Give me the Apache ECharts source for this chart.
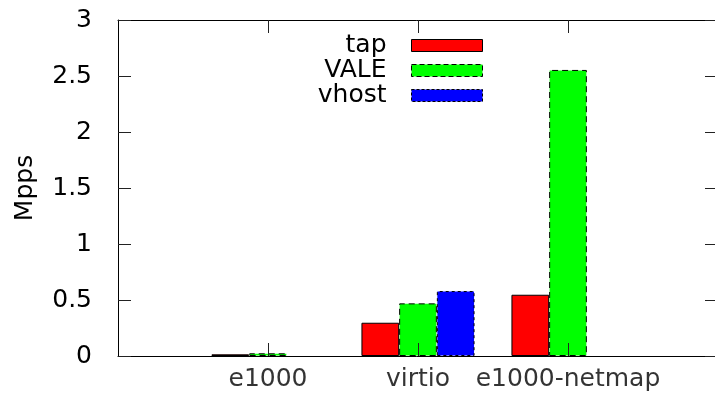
<!DOCTYPE html>
<html>
<head>
<meta charset="utf-8">
<script src="https://cdn.jsdelivr.net/npm/echarts@6/dist/echarts.min.js"></script>
<style>
html,body{margin:0;padding:0;background:#fff;}
#chart{width:715px;height:395px;}
</style>
</head>
<body>
<div id="chart"></div>
<script>
const categories = ['e1000', 'virtio', 'e1000-netmap'];
const seriesNames = ['tap', 'VALE', 'vhost'];
const tapValues = [0.015, 0.297, 0.547];
const valeValues = [0.024, 0.47, 2.554];
const vhostValues = [null, 0.58, null];
const yTickLabels = ['0', '0.5', '1', '1.5', '2', '2.5', '3'];
const yMax = 3;

const FONT = 'DejaVu Sans';
// one empty slot before and after the clusters (gnuplot x range -1..3)
const axisSlots = [''].concat(categories).concat(['']);
const padData = arr => [null].concat(arr).concat([null]);
const baseline = categories.map(() => 0);

const chart = echarts.init(document.getElementById('chart'), null, {renderer: 'canvas'});

function xAxisOf(position) {
  return {
    type: 'category', data: axisSlots, boundaryGap: false, position: position,
    axisLine: {show: true, onZero: false, lineStyle: {color: '#000', width: 1}},
    axisTick: {show: false},
    splitLine: {show: false},
    axisLabel: {show: false}
  };
}
function yAxisOf(position, showLabel) {
  return {
    type: 'value', min: 0, max: yMax, interval: 0.5, position: position,
    axisLine: {show: true, onZero: false, lineStyle: {color: '#000', width: 1}},
    axisTick: {show: true, inside: true, length: 13, lineStyle: {color: '#222', width: 1}},
    splitLine: {show: false},
    axisLabel: {
      show: showLabel, margin: 26, fontFamily: FONT, fontSize: 25, color: '#000',
      formatter: v => yTickLabels[Math.round(v / 0.5)]
    }
  };
}

const yLeft = yAxisOf('left', true);
yLeft.name = 'Mpps';
yLeft.nameLocation = 'middle';
yLeft.nameRotate = 90;
yLeft.nameGap = 80;
yLeft.nameTextStyle = {fontFamily: FONT, fontSize: 25, color: '#000'};

const barSeries = (name, values, style) => ({
  name: name, type: 'bar', xAxisIndex: 0, yAxisIndex: 0,
  barWidth: 37.7, barGap: '0%', itemStyle: style, data: padData(values)
});

chart.setOption({
  animation: false,
  backgroundColor: '#fff',
  grid: {left: 118, top: 20, right: -3, bottom: 39, containLabel: false, outerBoundsMode: 'none'},
  legend: {
    orient: 'vertical', align: 'right', right: 227, top: 28,
    icon: 'rect', itemWidth: 71, itemHeight: 12, itemGap: 0,
    textStyle: {fontFamily: FONT, fontSize: 25, color: '#000', lineHeight: 23, padding: [0, 20, 0, 0]},
    data: [
      {name: seriesNames[0], itemStyle: {borderColor: '#000', borderWidth: 1, borderType: 'solid'}},
      {name: seriesNames[1], itemStyle: {borderColor: '#000', borderWidth: 1, borderType: [5, 3]}},
      {name: seriesNames[2], itemStyle: {borderColor: '#000', borderWidth: 1, borderType: [3, 2]}}
    ]
  },
  xAxis: [xAxisOf('bottom'), xAxisOf('top')],
  yAxis: [yLeft, yAxisOf('right', false)],
  series: [
    barSeries(seriesNames[0], tapValues, {color: '#ff0000', borderColor: '#000', borderWidth: 1, borderType: 'solid'}),
    barSeries(seriesNames[1], valeValues, {color: '#00ff00', borderColor: '#000', borderWidth: 1, borderType: [6, 4]}),
    barSeries(seriesNames[2], vhostValues, {color: '#0000ff', borderColor: '#000', borderWidth: 1, borderType: [3, 3]}),
    {
      // category names under the clusters, placed by the axis scale
      name: 'categoryLabels', type: 'scatter', xAxisIndex: 0, yAxisIndex: 0,
      symbolSize: 0, silent: true, clip: false, z: 10,
      label: {
        show: true, position: 'bottom', distance: 11,
        fontFamily: FONT, fontSize: 25, color: '#000',
        formatter: p => axisSlots[p.dataIndex]
      },
      data: padData(baseline)
    },
    {
      // inward x ticks at each cluster centre, bottom and mirrored top
      name: 'xTicks', type: 'custom', xAxisIndex: 0, yAxisIndex: 0,
      silent: true, clip: false, z: 10,
      encode: {x: 0, y: 1},
      data: categories.map(c => [c, 0]),
      renderItem: function (params, api) {
        const bottom = api.coord([api.value(0), 0]);
        const top = api.coord([api.value(0), yMax]);
        const x = Math.round(bottom[0]) + 0.5;
        const style = {stroke: '#222', lineWidth: 1};
        return {
          type: 'group',
          children: [
            {type: 'line', shape: {x1: x, y1: bottom[1], x2: x, y2: bottom[1] - 13}, style: style},
            {type: 'line', shape: {x1: x, y1: top[1], x2: x, y2: top[1] + 13}, style: style}
          ]
        };
      }
    }
  ]
});
</script>
</body>
</html>
